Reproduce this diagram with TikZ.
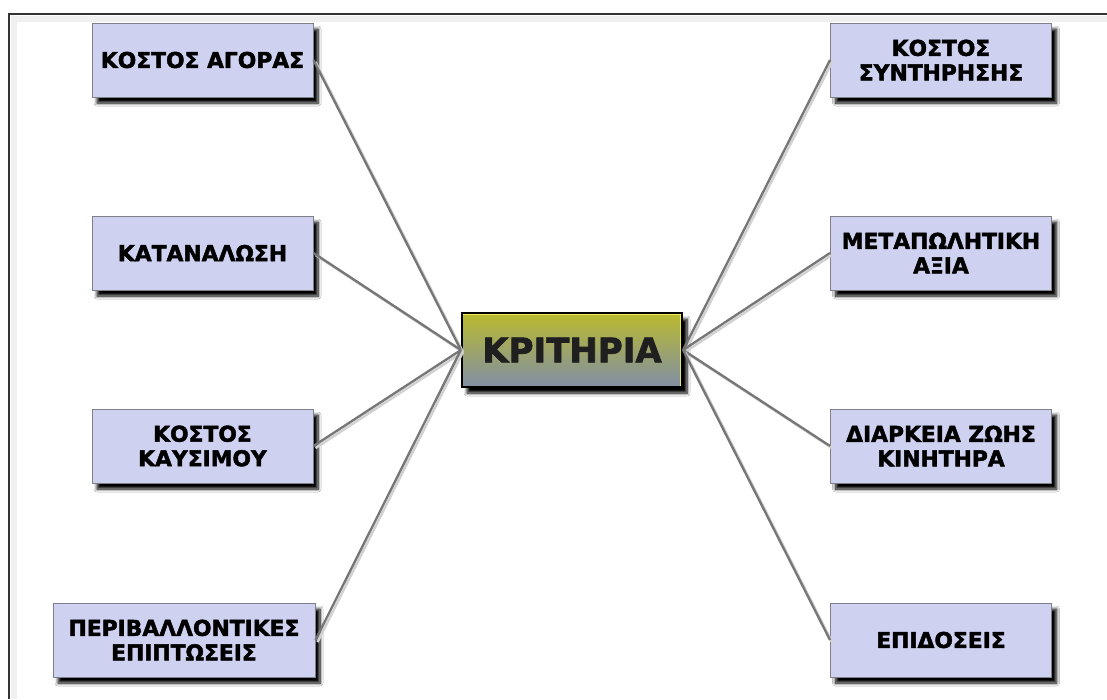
\documentclass[tikz,border=0pt]{standalone}
\usepackage{fontspec}
\setmainfont{DejaVu Sans}[BoldFeatures={FakeBold=2}]
\usetikzlibrary{shadows.blur}
\definecolor{boxfill}{RGB}{206,209,239}
\definecolor{boxline}{RGB}{128,128,136}
\definecolor{linkcol}{RGB}{118,118,118}
\definecolor{ctop}{RGB}{186,186,46}
\definecolor{cbot}{RGB}{128,142,165}
\tikzset{
  crit/.style={draw=boxline, line width=1pt, fill=boxfill, minimum width=221pt, minimum height=74pt,
    align=center, inner sep=2pt, font=\fontsize{21.8}{24.5}\selectfont\bfseries,
    blur shadow={shadow xshift=5pt, shadow yshift=-6pt, shadow blur steps=8, shadow opacity=100, shadow blur radius=3pt}},
  hub/.style={draw=black, line width=2.2pt, top color=ctop, bottom color=cbot, minimum width=220pt, minimum height=74pt,
    font=\fontsize{34}{36}\selectfont\bfseries, text=black!88,
    blur shadow={shadow xshift=5pt, shadow yshift=-6pt, shadow blur steps=8, shadow opacity=100, shadow blur radius=3pt}},
  link/.style={draw=linkcol, line width=2.3pt},
  linkshade/.style={draw=black!18, line width=2.5pt},
}
\begin{document}
\begin{tikzpicture}[x=1pt,y=-1pt]
\useasboundingbox (0,0) rectangle (1107,699);
\fill[white] (0,0) rectangle (1107,699);
% frame
\draw[black!6, line width=6pt] (14,699) -- (14,19) -- (1107,19);
\draw[black!80, line width=1.3pt] (9,699) -- (9,14) -- (1107,14);
% nodes
\node[hub] (c) at (572,350) {ΚΡΙΤΗΡΙΑ};
\node[crit] (l1) at (202.5,60) {ΚΟΣΤΟΣ ΑΓΟΡΑΣ};
\node[crit] (l2) at (202.5,253) {ΚΑΤΑΝΑΛΩΣΗ};
\node[crit] (l3) at (202.5,446) {ΚΟΣΤΟΣ\\ΚΑΥΣΙΜΟΥ};
\node[crit, minimum width=262pt] (l4) at (184,640) {ΠΕΡΙΒΑΛΛΟΝΤΙΚΕΣ\\ΕΠΙΠΤΩΣΕΙΣ};
\node[crit] (r1) at (941,60) {ΚΟΣΤΟΣ\\ΣΥΝΤΗΡΗΣΗΣ};
\node[crit] (r2) at (941,253) {ΜΕΤΑΠΩΛΗΤΙΚΗ\\ΑΞΙΑ};
\node[crit] (r3) at (941,446) {ΔΙΑΡΚΕΙΑ ΖΩΗΣ\\ΚΙΝΗΤΗΡΑ};
\node[crit] (r4) at (941,640) {ΕΠΙΔΟΣΕΙΣ};
% inner highlight of hub
\draw[yellow!60!white, line width=1pt, opacity=0.8] ([shift={(2.5pt,-2.5pt)}]c.north west) -- ([shift={(-2.5pt,-2.5pt)}]c.north east) -- ([shift={(-2.5pt,2.5pt)}]c.south east);
% connectors
\foreach \n in {l1,l2,l3,l4} {
  \draw[linkshade] ([shift={(2pt,-2pt)}]\n.east) -- ([shift={(2pt,-2pt)}]c.west);
  \draw[link] (\n.east) -- (c.west);
}
\foreach \n in {r1,r2,r3,r4} {
  \draw[linkshade] ([shift={(2pt,-2pt)}]\n.west) -- ([shift={(2pt,-2pt)}]c.east);
  \draw[link] (\n.west) -- (c.east);
}
\end{tikzpicture}
\end{document}
